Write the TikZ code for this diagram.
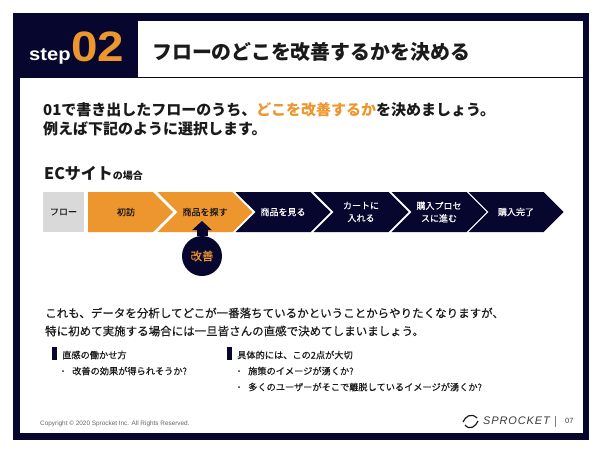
\documentclass[tikz,border=0pt]{standalone}
\usepackage{fontspec}
\usepackage{xcolor}
\usetikzlibrary{arrows.meta,shapes.symbols}
\setmainfont{Noto Sans CJK JP}
\newfontfamily\medfont[FakeBold=0.35]{Noto Sans CJK JP}
\newfontfamily\latinfont[FakeStretch=1.12]{Liberation Sans}
\newfontfamily\plainlatin{Liberation Sans}
\newfontfamily\logofont[LetterSpace=8]{Liberation Sans}
\newcommand{\fsize}[2]{\fontsize{#1}{#2}\selectfont}
\definecolor{navy}{HTML}{06062E}
\definecolor{accent}{HTML}{EE962E}
\definecolor{flowgray}{HTML}{D9D9D9}
\definecolor{ink}{HTML}{1A1A1A}
\tikzset{
  txt/.style={inner sep=0pt,anchor=west,text=ink},
  chev/.style={shape=signal,signal to=east,signal from=west,signal pointer angle=90,
    minimum height=40pt,inner sep=0pt,align=center,font=\fsize{9}{12.5}\medfont},
  navychev/.style={chev,fill=navy,text=white,minimum width=95pt},
  orangechev/.style={chev,fill=accent,text=ink,minimum width=95pt},
}
\begin{document}
\begin{tikzpicture}[x=1pt,y=-1pt]
\useasboundingbox (0,0) rectangle (600,450);
\fill[navy] (13,13) rectangle (589,440);
\fill[white] (20,78) rectangle (583,433);
\fill[white] (138,21) rectangle (583,77);

\node[txt,text=white] (step) at (29,56) {\latinfont\bfseries\fsize{18}{18}step};
\node[txt,text=accent] (num) at (71,46.5) {\latinfont\bfseries\fsize{42.5}{44}02};
\node[txt,font=\bfseries\fsize{19.9}{24}] (title) at (152,52) {フローのどこを改善するかを決める};

\node[txt,align=left,font=\bfseries\fsize{15}{19}] (lead) at (43,119.5) {01で書き出したフローのうち、\textcolor{accent}{どこを改善するか}を決めましょう。\\例えば下記のように選択します。};

\node[txt,font=\bfseries\fsize{16}{20}] (ec) at (44,173) {ECサイト\fsize{10}{20}の場合};

\node[fill=flowgray,minimum width=41pt,minimum height=40pt,inner sep=0pt,text=ink,font=\fsize{9}{12}\medfont] (flow) at (63.5,212) {フロー};
\node[chev,signal from=nowhere,fill=accent,text=ink,minimum width=85pt] (visit) at (120.5,212) {\hspace{11pt}初訪};
\node[orangechev] (search) at (205,212) {商品を探す};
\node[navychev] (view) at (283,212) {商品を見る};
\node[navychev] (cart) at (361,212) {カートに\\入れる};
\node[navychev] (proc) at (439,212) {購入プロセ\\スに進む};
\node[navychev] (done) at (516,212) {購入完了};

\node[circle,fill=navy,minimum size=40pt,inner sep=0pt,text=accent,font=\fsize{11.5}{14}\medfont] (kaizen) at (202,256) {改善};
\coordinate (kaizentip) at (202,221);
\path[-{Triangle[length=9pt,width=19pt]},line width=11pt,navy] (kaizen) edge (kaizentip);

\node[txt,align=left,font=\medfont\fsize{11.5}{18}] (para) at (45,322) {これも、データを分析してどこが一番落ちているかということからやりたくなりますが、\\特に初めて実施する場合には一旦皆さんの直感で決めてしまいましょう。};

\fill[navy] (52,347) rectangle (57,360);
\fill[navy] (227,347) rectangle (232,360);
\node[txt,font=\fsize{9.2}{12}\medfont] (h1) at (62,355) {直感の働かせ方};
\node[txt,font=\fsize{9.2}{12}\medfont] (b1) at (72,371) {改善の効果が得られそうか?};
\node[txt,font=\fsize{9.2}{12}\medfont] (h2) at (237,355) {具体的には、この2点が大切};
\node[txt,font=\fsize{9.2}{12}\medfont] (b2) at (248,371) {施策のイメージが湧くか?};
\node[txt,font=\fsize{9.2}{12}\medfont] (b3) at (248,387) {多くのユーザーがそこで離脱しているイメージが湧くか?};
\fill[ink] (63,371) circle (1);
\fill[ink] (239,371) circle (1);
\fill[ink] (239,387) circle (1);

\node[txt,text=black!60] (copy) at (40,424) {\plainlatin\fsize{6.4}{8}Copyright © 2020 Sprocket Inc. All Rights Reserved.};
\draw[ink,line width=1.2pt] (463,422) .. controls (465,417) and (471,412) .. (477,418);
\draw[ink,line width=1.2pt] (478,421) .. controls (476,426) and (470,431) .. (465,425);
\node[txt,text=ink!85] (logo) at (483,421) {\logofont\itshape\fsize{11}{12}SPROCKET};
\draw[black!50,line width=0.5pt] (555,416) -- (555,427);
\node[txt,text=black!75] (page) at (565,421) {\plainlatin\fsize{7.5}{8}07};
\end{tikzpicture}
\end{document}
